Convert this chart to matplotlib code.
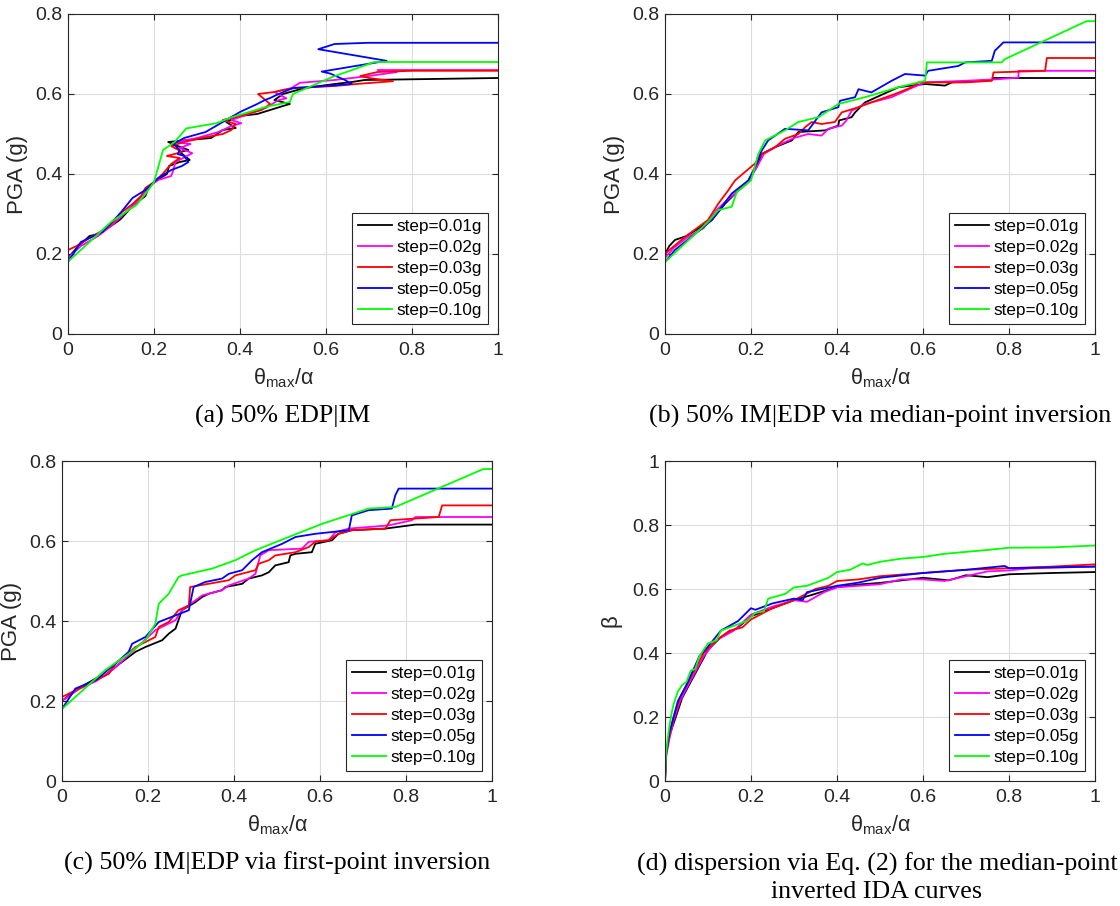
import matplotlib
matplotlib.use('Agg')
import matplotlib.pyplot as plt

plt.rcParams['font.family'] = ['Liberation Sans', 'DejaVu Sans']
plt.rcParams['mathtext.fontset'] = 'custom'
plt.rcParams['mathtext.rm'] = 'Liberation Sans'
plt.rcParams['mathtext.it'] = 'Liberation Sans:italic'

labels = ['step=0.01g', 'step=0.02g', 'step=0.03g', 'step=0.05g', 'step=0.10g']
colors = ['#000000', '#ff00ff', '#ff0000', '#0000ff', '#00ff00']
xticks = [0, 0.2, 0.4, 0.6, 0.8, 1]
xticklabels = ['0', '0.2', '0.4', '0.6', '0.8', '1']
pga_ticks = [0, 0.2, 0.4, 0.6, 0.8]
pga_ticklabels = ['0', '0.2', '0.4', '0.6', '0.8']
beta_ticks = [0, 0.2, 0.4, 0.6, 0.8, 1]
beta_ticklabels = ['0', '0.2', '0.4', '0.6', '0.8', '1']
captions = ['(a) 50% EDP|IM',
            '(b) 50% IM|EDP via median-point inversion',
            '(c) 50% IM|EDP via first-point inversion',
            '(d) dispersion via Eq. (2) for the median-point\ninverted IDA curves']

# ---- (a) 50% EDP|IM : theta vs PGA ----
a_x_k = [0, 0, 0.02, 0.05, 0.07, 0.1, 0.12, 0.125, 0.15, 0.18, 0.185, 0.2, 0.23, 0.235, 0.26, 0.283,
         0.26, 0.28, 0.255, 0.233, 0.28, 0.333, 0.36, 0.39, 0.368, 0.4, 0.44, 0.5, 0.516, 0.48, 0.5,
         0.55, 0.62, 0.66, 0.69, 1.0]
a_y_k = [0, 0.19, 0.215, 0.245, 0.25, 0.27, 0.285, 0.29, 0.32, 0.345, 0.36, 0.38, 0.40, 0.42, 0.43, 0.435,
         0.455, 0.46, 0.47, 0.48, 0.485, 0.49, 0.51, 0.515, 0.53, 0.545, 0.55, 0.57, 0.575, 0.585, 0.60,
         0.615, 0.625, 0.63, 0.635, 0.64]
a_x_m = [0, 0, 0.03, 0.07, 0.1, 0.13, 0.16, 0.19, 0.21, 0.24, 0.245, 0.25, 0.289, 0.26, 0.285, 0.25,
         0.30, 0.35, 0.38, 0.403, 0.38, 0.42, 0.46, 0.49, 0.508, 0.48, 0.52, 0.539, 0.62, 0.70, 0.765,
         0.72, 1.0]
a_y_m = [0, 0.19, 0.22, 0.245, 0.27, 0.30, 0.33, 0.37, 0.385, 0.395, 0.41, 0.43, 0.452, 0.465, 0.475, 0.48,
         0.49, 0.505, 0.52, 0.527, 0.535, 0.55, 0.565, 0.585, 0.589, 0.605, 0.615, 0.628, 0.635, 0.645, 0.655,
         0.66, 0.66]
a_x_r = [0, 0, 0.02, 0.05, 0.09, 0.11, 0.12, 0.15, 0.17, 0.18, 0.2, 0.22, 0.24, 0.26, 0.23, 0.265,
         0.24, 0.27, 0.31, 0.36, 0.38, 0.39, 0.36, 0.40, 0.45, 0.47, 0.442, 0.48, 0.5, 0.53, 0.62, 0.67,
         0.756, 0.70, 0.68, 0.72, 0.8, 1.0]
a_y_r = [0, 0.21, 0.22, 0.24, 0.265, 0.285, 0.30, 0.325, 0.345, 0.365, 0.38, 0.40, 0.425, 0.44, 0.445, 0.455,
         0.47, 0.48, 0.49, 0.50, 0.51, 0.525, 0.535, 0.545, 0.56, 0.575, 0.60, 0.605, 0.61, 0.615, 0.62, 0.625,
         0.632, 0.64, 0.645, 0.655, 0.658, 0.658]
a_x_b = [0, 0, 0.03, 0.08, 0.12, 0.15, 0.18, 0.21, 0.24, 0.265, 0.28, 0.27, 0.255, 0.26, 0.245, 0.27,
         0.32, 0.36, 0.40, 0.44, 0.458, 0.47, 0.49, 0.523, 0.60, 0.66, 0.644, 0.61, 0.59, 0.741, 0.582,
         0.62, 0.698, 1.0]
a_y_b = [0, 0.18, 0.23, 0.255, 0.30, 0.34, 0.36, 0.39, 0.41, 0.42, 0.43, 0.445, 0.45, 0.46, 0.475, 0.49,
         0.505, 0.53, 0.555, 0.575, 0.585, 0.59, 0.60, 0.615, 0.62, 0.625, 0.635, 0.651, 0.656, 0.683, 0.712,
         0.725, 0.728, 0.728]
a_x_g = [0, 0, 0.05, 0.10, 0.159, 0.18, 0.20, 0.221, 0.248, 0.275, 0.345, 0.384, 0.461, 0.516, 0.523,
         0.616, 0.713, 1.0]
a_y_g = [0, 0.181, 0.23, 0.28, 0.3225, 0.35, 0.38, 0.46, 0.48, 0.514, 0.527, 0.543, 0.568, 0.58, 0.60,
         0.643, 0.68, 0.68]

# ---- (b) median-point inversion ----
b_x_k = [0, 0.01, 0.023, 0.05, 0.078, 0.109, 0.14, 0.194, 0.213, 0.225, 0.256, 0.295, 0.31, 0.372, 0.403,
         0.405, 0.434, 0.442, 0.465, 0.543, 0.605, 0.651, 0.667, 0.76, 0.764, 1.0]
b_y_k = [0.2, 0.22, 0.235, 0.245, 0.264, 0.285, 0.326, 0.384, 0.417, 0.45, 0.467, 0.484, 0.505, 0.509, 0.521,
         0.534, 0.542, 0.554, 0.579, 0.617, 0.625, 0.621, 0.629, 0.635, 0.64, 0.64]
b_x_m = [0, 0.02, 0.05, 0.09, 0.12, 0.15, 0.19, 0.215, 0.23, 0.26, 0.30, 0.333, 0.364, 0.38, 0.411, 0.422,
         0.434, 0.465, 0.527, 0.543, 0.578, 0.605, 0.698, 0.775, 0.822, 0.822, 1.0]
b_y_m = [0.19, 0.215, 0.24, 0.265, 0.31, 0.34, 0.375, 0.42, 0.45, 0.47, 0.49, 0.50, 0.496, 0.513, 0.521,
         0.534, 0.558, 0.575, 0.592, 0.60, 0.617, 0.629, 0.633, 0.637, 0.641, 0.658, 0.658]
b_x_r = [0, 0.01, 0.047, 0.1, 0.124, 0.147, 0.163, 0.186, 0.209, 0.225, 0.256, 0.279, 0.31, 0.326, 0.341,
         0.364, 0.395, 0.411, 0.45, 0.48, 0.535, 0.574, 0.589, 0.636, 0.698, 0.76, 0.764, 0.884, 0.888, 1.0]
b_y_r = [0.2, 0.21, 0.243, 0.285, 0.326, 0.359, 0.384, 0.405, 0.426, 0.45, 0.467, 0.488, 0.50, 0.517, 0.53,
         0.525, 0.53, 0.554, 0.567, 0.579, 0.60, 0.617, 0.629, 0.629, 0.629, 0.633, 0.654, 0.658, 0.69, 0.69]
b_x_b = [0, 0.023, 0.062, 0.109, 0.155, 0.194, 0.209, 0.225, 0.24, 0.279, 0.333, 0.364, 0.403, 0.407, 0.442,
         0.45, 0.48, 0.527, 0.558, 0.605, 0.612, 0.682, 0.698, 0.76, 0.767, 0.787, 1.0]
b_y_b = [0.18, 0.21, 0.243, 0.285, 0.351, 0.384, 0.417, 0.459, 0.484, 0.513, 0.509, 0.554, 0.567, 0.583,
         0.592, 0.612, 0.604, 0.633, 0.65, 0.646, 0.658, 0.67, 0.679, 0.683, 0.708, 0.729, 0.729]
b_x_g = [0, 0.10, 0.124, 0.155, 0.167, 0.2, 0.217, 0.233, 0.279, 0.31, 0.357, 0.403, 0.465, 0.543, 0.605,
         0.609, 0.783, 0.79, 0.98, 1.0]
b_y_g = [0.18, 0.28, 0.31, 0.318, 0.355, 0.384, 0.45, 0.484, 0.509, 0.53, 0.542, 0.575, 0.592, 0.617, 0.633,
         0.679, 0.679, 0.687, 0.782, 0.782]

# ---- (c) first-point inversion ----
c_x_k = [0, 0.031, 0.078, 0.1, 0.124, 0.171, 0.194, 0.233, 0.248, 0.264, 0.279, 0.31, 0.326, 0.341, 0.372,
         0.38, 0.419, 0.434, 0.465, 0.481, 0.496, 0.527, 0.531, 0.543, 0.581, 0.589, 0.628, 0.643, 0.674,
         0.752, 0.822, 1.0]
c_y_k = [0.2, 0.227, 0.256, 0.264, 0.285, 0.323, 0.335, 0.352, 0.368, 0.381, 0.427, 0.447, 0.46, 0.468,
         0.477, 0.485, 0.493, 0.506, 0.514, 0.522, 0.539, 0.547, 0.564, 0.568, 0.572, 0.593, 0.602, 0.618,
         0.627, 0.631, 0.641, 0.641]
c_x_m = [0, 0.04, 0.08, 0.12, 0.17, 0.217, 0.264, 0.279, 0.326, 0.372, 0.388, 0.434, 0.45, 0.461, 0.481,
         0.558, 0.574, 0.62, 0.636, 0.667, 0.76, 0.814, 0.822, 1.0]
c_y_m = [0.2, 0.23, 0.25, 0.28, 0.33, 0.377, 0.402, 0.427, 0.464, 0.477, 0.489, 0.506, 0.518, 0.564, 0.577,
         0.581, 0.598, 0.602, 0.622, 0.631, 0.639, 0.652, 0.66, 0.66]
c_x_r = [0, 0.047, 0.109, 0.124, 0.171, 0.217, 0.225, 0.248, 0.271, 0.295, 0.298, 0.341, 0.388, 0.403,
         0.45, 0.457, 0.481, 0.496, 0.543, 0.574, 0.589, 0.62, 0.643, 0.674, 0.752, 0.764, 0.876, 0.884, 1.0]
c_y_r = [0.21, 0.235, 0.268, 0.293, 0.335, 0.36, 0.385, 0.3975, 0.427, 0.439, 0.485, 0.493, 0.502, 0.514,
         0.527, 0.543, 0.552, 0.564, 0.572, 0.585, 0.598, 0.602, 0.618, 0.627, 0.631, 0.652, 0.66, 0.689, 0.689]
c_x_b = [0, 0.031, 0.078, 0.124, 0.155, 0.163, 0.194, 0.225, 0.264, 0.295, 0.306, 0.333, 0.372, 0.388,
         0.419, 0.442, 0.465, 0.512, 0.543, 0.589, 0.667, 0.674, 0.713, 0.767, 0.775, 0.783, 1.0]
c_y_b = [0.18, 0.231, 0.252, 0.293, 0.323, 0.343, 0.36, 0.3975, 0.414, 0.427, 0.485, 0.4975, 0.506, 0.518,
         0.527, 0.552, 0.572, 0.593, 0.61, 0.618, 0.627, 0.664, 0.677, 0.681, 0.714, 0.731, 0.731]
c_x_g = [0, 0.1, 0.155, 0.194, 0.217, 0.225, 0.248, 0.271, 0.279, 0.349, 0.403, 0.45, 0.527, 0.605, 0.713,
         0.775, 0.98, 1.0]
c_y_g = [0.18, 0.277, 0.318, 0.352, 0.393, 0.443, 0.468, 0.51, 0.514, 0.531, 0.552, 0.577, 0.61, 0.643,
         0.681, 0.685, 0.78, 0.78]

# ---- (d) dispersion beta ----
d_x_k = [0, 0.003, 0.01, 0.02, 0.03, 0.04, 0.06, 0.08, 0.1, 0.13, 0.17, 0.2, 0.25, 0.3, 0.35, 0.4, 0.45,
         0.5, 0.55, 0.6, 0.66, 0.7, 0.75, 0.8, 0.9, 1.0]
d_y_k = [0, 0.09, 0.14, 0.18, 0.22, 0.26, 0.31, 0.36, 0.41, 0.45, 0.48, 0.515, 0.54, 0.565, 0.585, 0.606,
         0.614, 0.619, 0.627, 0.635, 0.627, 0.643, 0.637, 0.646, 0.65, 0.653]
d_x_m = [0, 0.003, 0.01, 0.02, 0.035, 0.05, 0.07, 0.09, 0.12, 0.16, 0.2, 0.25, 0.3, 0.33, 0.37, 0.4, 0.5,
         0.55, 0.6, 0.65, 0.7, 0.75, 0.8, 0.85, 1.0]
d_y_m = [0, 0.08, 0.13, 0.19, 0.25, 0.29, 0.34, 0.39, 0.44, 0.47, 0.52, 0.545, 0.565, 0.56, 0.59, 0.605,
         0.615, 0.63, 0.63, 0.625, 0.64, 0.655, 0.658, 0.665, 0.67]
d_x_r = [0, 0.003, 0.01, 0.02, 0.035, 0.05, 0.07, 0.09, 0.12, 0.15, 0.18, 0.2, 0.25, 0.3, 0.35, 0.38, 0.4,
         0.45, 0.5, 0.6, 0.7, 0.8, 0.9, 1.0]
d_y_r = [0, 0.09, 0.14, 0.2, 0.26, 0.3, 0.35, 0.40, 0.44, 0.47, 0.48, 0.505, 0.54, 0.565, 0.60, 0.61, 0.625,
         0.63, 0.64, 0.65, 0.66, 0.665, 0.67, 0.677]
d_x_b = [0, 0.002, 0.01, 0.03, 0.05, 0.08, 0.1, 0.13, 0.17, 0.2, 0.21, 0.25, 0.3, 0.32, 0.33, 0.4, 0.45,
         0.5, 0.6, 0.7, 0.79, 0.8, 1.0]
d_y_b = [0, 0.08, 0.15, 0.25, 0.30, 0.39, 0.42, 0.47, 0.50, 0.54, 0.535, 0.555, 0.57, 0.565, 0.59, 0.61,
         0.62, 0.635, 0.65, 0.66, 0.672, 0.665, 0.67]
d_x_g = [0, 0.002, 0.006, 0.01, 0.015, 0.02, 0.03, 0.04, 0.05, 0.06, 0.07, 0.08, 0.09, 0.1, 0.12, 0.13,
         0.15, 0.17, 0.19, 0.21, 0.23, 0.24, 0.28, 0.3, 0.33, 0.36, 0.38, 0.4, 0.43, 0.46, 0.47, 0.5, 0.55,
         0.6, 0.65, 0.7, 0.75, 0.8, 0.9, 1.0]
d_y_g = [0, 0.08, 0.13, 0.17, 0.21, 0.24, 0.28, 0.30, 0.31, 0.345, 0.35, 0.39, 0.41, 0.43, 0.44, 0.47,
         0.48, 0.49, 0.50, 0.525, 0.53, 0.57, 0.585, 0.605, 0.61, 0.625, 0.635, 0.653, 0.66, 0.68, 0.675,
         0.685, 0.695, 0.70, 0.71, 0.716, 0.722, 0.729, 0.73, 0.736]

panels = [
    ([a_x_k, a_x_m, a_x_r, a_x_b, a_x_g], [a_y_k, a_y_m, a_y_r, a_y_b, a_y_g]),
    ([b_x_k, b_x_m, b_x_r, b_x_b, b_x_g], [b_y_k, b_y_m, b_y_r, b_y_b, b_y_g]),
    ([c_x_k, c_x_m, c_x_r, c_x_b, c_x_g], [c_y_k, c_y_m, c_y_r, c_y_b, c_y_g]),
    ([d_x_k, d_x_m, d_x_r, d_x_b, d_x_g], [d_y_k, d_y_m, d_y_r, d_y_b, d_y_g]),
]

W, H = 1120, 906
fig = plt.figure(figsize=(W / 100, H / 100), dpi=100)
# axes boxes in pixels: left, top, right, bottom
boxes = [(68, 14, 498, 334), (665, 14, 1095, 334), (62, 461, 492, 781), (665, 461, 1095, 781)]
cap_pos = [(283, 416), (880, 416), (277, 863), (877, 878)]
dark = '#262626'

for i, (xs, ys) in enumerate(panels):
    l, t, r, b = boxes[i]
    ax = fig.add_axes([l / W, 1 - b / H, (r - l) / W, (b - t) / H])
    for x, y, c, lab in zip(xs, ys, colors, labels):
        ax.plot(x, y, color=c, lw=1.3, label=lab)
    ax.set_xlim(0, 1)
    ax.set_xticks(xticks)
    ax.set_xticklabels(xticklabels)
    if i == 3:
        ax.set_ylim(0, 1)
        ax.set_yticks(beta_ticks)
        ax.set_yticklabels(beta_ticklabels)
        ax.set_ylabel('β', fontsize=16, color=dark, labelpad=8)
    else:
        ax.set_ylim(0, 0.8)
        ax.set_yticks(pga_ticks)
        ax.set_yticklabels(pga_ticklabels)
        ax.set_ylabel('PGA (g)', fontsize=16, color=dark, labelpad=5)
    ax.set_xlabel(r'θ$_{\mathrm{max}}$/α', fontsize=15.5, color=dark, labelpad=5)
    ax.grid(True, color='#dcdcdc', lw=0.8)
    ax.set_axisbelow(True)
    ax.tick_params(direction='in', length=4, width=0.8, top=True, right=True,
                   labelsize=14, colors=dark)
    ax.tick_params(axis='x', pad=6)
    ax.tick_params(axis='y', pad=4)
    for s in ax.spines.values():
        s.set_color(dark)
        s.set_linewidth(0.8)
    leg = ax.legend(loc='lower right', fontsize=12.3, fancybox=False, framealpha=1,
                    edgecolor=dark, handlelength=2.0, handletextpad=0.25, labelspacing=0.35,
                    borderpad=0.35, borderaxespad=0.6)
    leg.get_frame().set_linewidth(0.8)
    cx, cy = cap_pos[i]
    fig.text(cx / W, 1 - cy / H, captions[i], ha='center', va='center',
             fontsize=18.7, family='Liberation Serif', linespacing=1.3)

fig.savefig('out.png', dpi=100)
